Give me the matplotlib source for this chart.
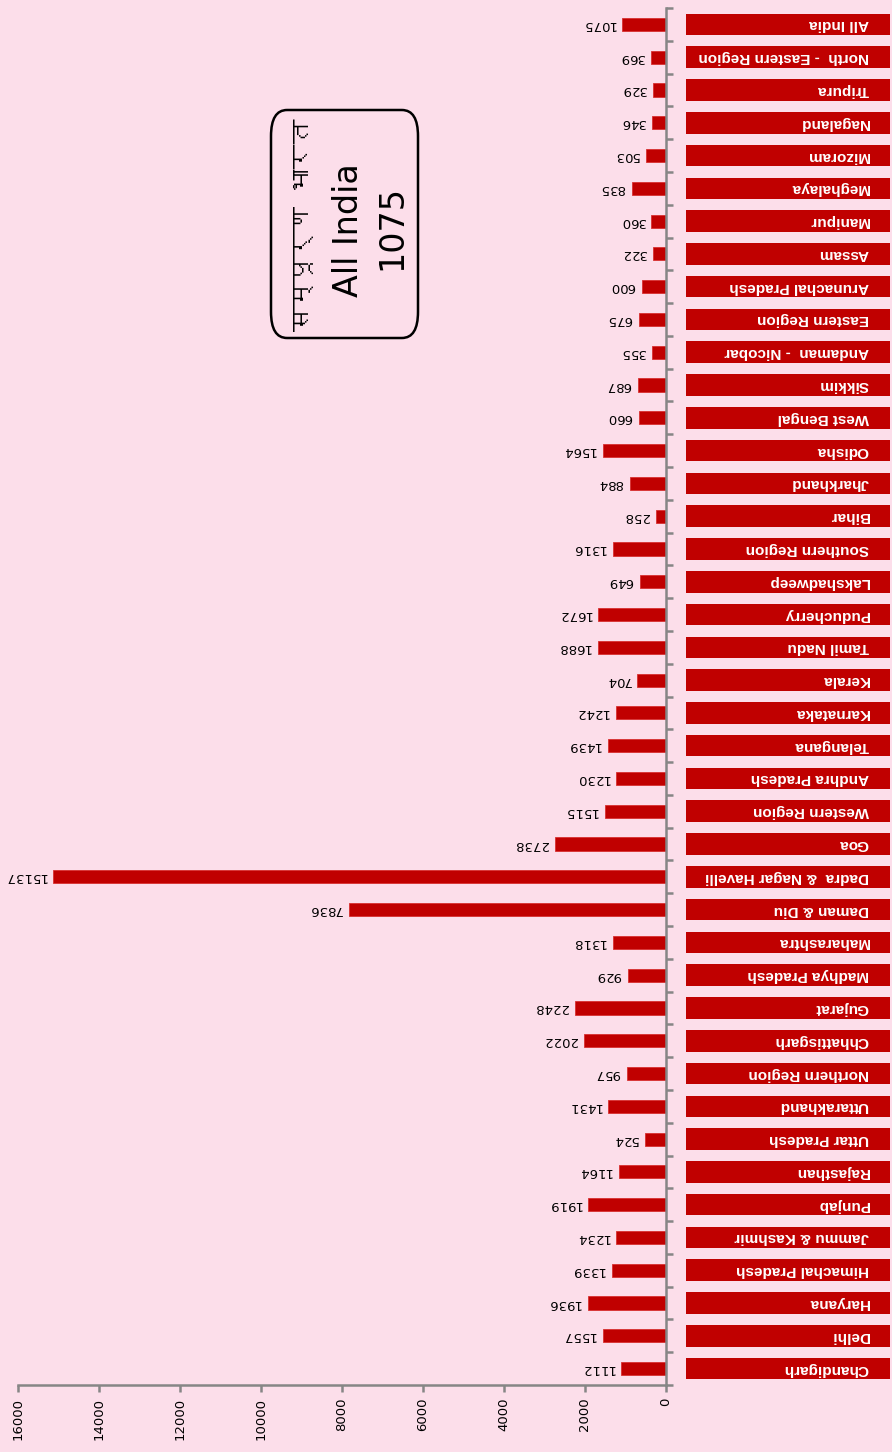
#!/usr/bin/env python3
"""Upside-down horizontal bar chart of state-wise values (All India = 1075)."""

import matplotlib

matplotlib.use("Agg")
import matplotlib.pyplot as plt
from matplotlib import font_manager
from matplotlib.ft2font import FT2Font
from matplotlib.patches import FancyBboxPatch

# rows as they appear from top to bottom of the picture
regions = [
    "All India", "North  - Eastern Region", "Tripura", "Nagaland", "Mizoram",
    "Meghalaya", "Manipur", "Assam", "Arunachal Pradesh", "Eastern Region",
    "Andaman  - Nicobar", "Sikkim", "West Bengal", "Odisha", "Jharkhand",
    "Bihar", "Southern Region", "Lakshadweep", "Puducherry", "Tamil Nadu",
    "Kerala", "Karnataka", "Telangana", "Andhra Pradesh", "Western Region",
    "Goa", "Dadra  & Nagar Havelli", "Daman & Diu", "Maharashtra",
    "Madhya Pradesh", "Gujarat", "Chhattisgarh", "Northern Region",
    "Uttarakhand", "Uttar Pradesh", "Rajasthan", "Punjab", "Jammu & Kashmir",
    "Himachal Pradesh", "Haryana", "Delhi", "Chandigarh",
]
values = [
    1075, 369, 329, 346, 503, 835, 360, 322, 600, 675,
    355, 687, 660, 1564, 884, 258, 1316, 649, 1672, 1688,
    704, 1242, 1439, 1230, 1515, 2738, 15137, 7836, 1318, 929,
    2248, 2022, 957, 1431, 524, 1164, 1919, 1234, 1339, 1936,
    1557, 1112,
]
x_ticks = [0, 2000, 4000, 6000, 8000, 10000, 12000, 14000, 16000]
callout_lines = ["सम्पूर्ण भारत", "All India", "1075"]

BG = "#FCDEEA"
RED = "#C00000"
AXIS = "#868686"
W, H = 892, 1452


def find_devanagari_font():
    for entry in font_manager.fontManager.ttflist:
        try:
            if ord("स") in FT2Font(entry.fname).get_charmap():
                return entry.name
        except Exception:
            continue
    return None


deva = find_devanagari_font()
deva_family = [deva, "DejaVu Sans"] if deva else ["DejaVu Sans"]

fig = plt.figure(figsize=(W / 100, H / 100), dpi=100, facecolor=BG)

n = len(regions)
ypos = [n - 1 - i for i in range(n)]

# main bar axes (value axis runs right-to-left)
ax = fig.add_axes([18 / W, 67 / H, (666 - 18) / W, (1385 - 8) / H], facecolor=BG)
ax.barh(ypos, values, height=0.4, color=RED, edgecolor="#D83030", linewidth=0.6)
ax.set_xlim(16000, 0)
ax.set_ylim(-0.5, n - 0.5)

for y, v in zip(ypos, values):
    ax.text(v + 170, y, f"{v}", rotation=180, rotation_mode="anchor",
            ha="left", va="center", fontsize=9.5, color="black")

for side in ("top", "left"):
    ax.spines[side].set_visible(False)
for side in ("bottom", "right"):
    ax.spines[side].set_color(AXIS)
    ax.spines[side].set_linewidth(1.8)

ax.yaxis.tick_right()
ax.set_yticks([k - 0.5 for k in range(n + 1)])
ax.set_yticklabels([])
ax.tick_params(axis="y", direction="out", length=5, width=1.8, color=AXIS)

ax.set_xticks(x_ticks)
ax.set_xticklabels([str(t) for t in x_ticks], rotation=90, va="top", fontsize=9.5)
ax.tick_params(axis="x", direction="out", length=5, width=1.8, color=AXIS, pad=4)

# red name boxes on the right
lab = fig.add_axes([686 / W, 67 / H, 204 / W, (1385 - 8) / H], sharey=ax)
lab.set_facecolor("none")
lab.barh(ypos, [1] * n, height=0.66, left=0, color=RED)
lab.set_xlim(0, 1)
for y, name in zip(ypos, regions):
    lab.text(0.895, y, name, rotation=180, rotation_mode="anchor",
             ha="left", va="center", fontsize=11, fontweight="bold",
             color="white", family="Liberation Sans")
lab.axis("off")

# rounded callout box
box = FancyBboxPatch((271 / W, 1 - 338 / H), (418 - 271) / W, (338 - 110) / H,
                     boxstyle="round,pad=0,rounding_size=0.018",
                     transform=fig.transFigure, facecolor="none",
                     edgecolor="black", linewidth=1.8)
fig.patches.append(box)
fig.text(303 / W, 1 - 225 / H, callout_lines[0], rotation=90, ha="center",
         va="center", fontsize=18, fontweight="bold", family=deva_family)
fig.text(349 / W, 1 - 230 / H, callout_lines[1], rotation=90, ha="center",
         va="center", fontsize=24)
fig.text(392 / W, 1 - 227 / H, callout_lines[2], rotation=90, ha="center",
         va="center", fontsize=24)

fig.savefig("out.png", dpi=100, facecolor=BG)
